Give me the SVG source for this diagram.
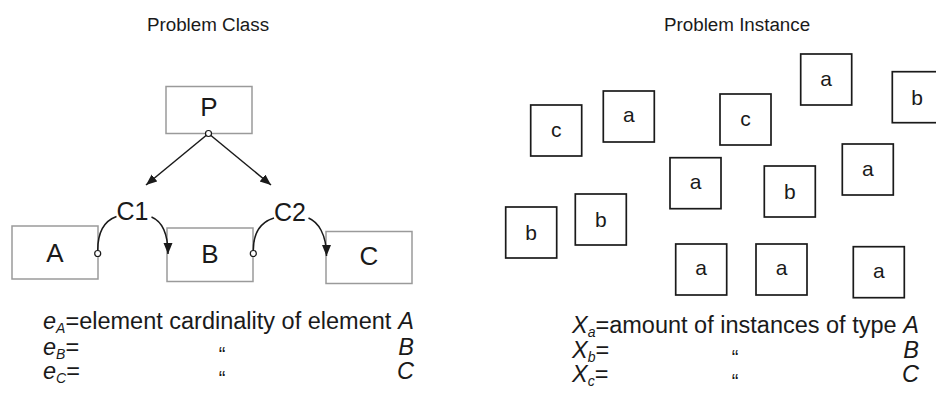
<svg xmlns="http://www.w3.org/2000/svg" width="936" height="397" viewBox="0 0 936 397">
<defs>
<style>
text{font-family:"Liberation Sans",Arial,sans-serif;fill:#1a1a1a}
.title{font-size:18.8px}
.cbox{fill:#fff;stroke:#9a9a9a;stroke-width:1.5}
.clbl{font-size:26px;text-anchor:middle}
.conn{fill:none;stroke:#1a1a1a;stroke-width:1.5}
.port{fill:#fff;stroke:#1a1a1a;stroke-width:1.2}
.cl{font-size:25px;text-anchor:middle}
.ibox{fill:#fff;stroke:#1a1a1a;stroke-width:1.7}
.ilbl{font-size:21px;text-anchor:middle}
.bt{font-size:23.5px}
.it{font-style:italic}
.sub{font-size:14px;font-style:italic}
.q{font-size:20px;text-anchor:middle}
.end{text-anchor:end}
</style>
<marker id="arr" markerUnits="userSpaceOnUse" markerWidth="12" markerHeight="10" refX="11" refY="4.5" orient="auto">
<path d="M0,0 L11,4.5 L0,9 z" fill="#1a1a1a"/>
</marker>
</defs>
<rect width="936" height="397" fill="#fff"/>

<text class="title" x="208" y="31" text-anchor="middle">Problem Class</text>
<text class="title" x="664" y="31">Problem Instance</text>

<g id="node-P"><rect class="cbox" x="166" y="86.5" width="86" height="47"/><text class="clbl" x="209" y="116">P</text></g>
<g id="node-A"><rect class="cbox" x="12" y="226" width="86" height="53"/><text class="clbl" x="55" y="262">A</text></g>
<g id="node-B"><rect class="cbox" x="167" y="228" width="86" height="53.5"/><text class="clbl" x="210" y="263">B</text></g>
<g id="node-C"><rect class="cbox" x="326" y="231.5" width="86" height="52"/><text class="clbl" x="369" y="265">C</text></g>
<g id="node-C1"><text class="cl" x="132.5" y="220">C1</text></g>
<g id="node-C2"><text class="cl" x="290" y="221">C2</text></g>

<g id="connectors">
<path class="conn" d="M208.5,133.5 L146,185" marker-end="url(#arr)"/>
<path class="conn" d="M208.5,133.5 L271,185" marker-end="url(#arr)"/>
<path class="conn" d="M97.7,250.5 C97.7,233 104,221 116.5,216.5"/>
<path class="conn" d="M151.5,217 C161,221 168,232 168,254" marker-end="url(#arr)"/>
<path class="conn" d="M253.3,250.5 C253.3,233 261,222 274,218"/>
<path class="conn" d="M308.5,218 C318,222 326.5,234 326.5,256" marker-end="url(#arr)"/>
<circle class="port" cx="208.5" cy="133.5" r="3"/>
<circle class="port" cx="97.7" cy="253.5" r="3"/>
<circle class="port" cx="253.3" cy="253.5" r="3"/>
</g>

<g id="inst-1"><rect class="ibox" x="530.7" y="105" width="51" height="51"/><text class="ilbl" x="556.2" y="137">c</text></g>
<g id="inst-2"><rect class="ibox" x="603.3" y="91" width="51" height="51"/><text class="ilbl" x="628.8" y="122">a</text></g>
<g id="inst-3"><rect class="ibox" x="720" y="94" width="51" height="51"/><text class="ilbl" x="745.5" y="126">c</text></g>
<g id="inst-4"><rect class="ibox" x="800.7" y="54" width="51" height="51"/><text class="ilbl" x="826.2" y="86">a</text></g>
<g id="inst-5"><rect class="ibox" x="892.3" y="71.7" width="51" height="51"/><text class="ilbl" x="917" y="105">b</text></g>
<g id="inst-6"><rect class="ibox" x="670" y="157.7" width="51" height="51"/><text class="ilbl" x="695.5" y="189">a</text></g>
<g id="inst-7"><rect class="ibox" x="764.3" y="166" width="51" height="51"/><text class="ilbl" x="789.8" y="199">b</text></g>
<g id="inst-8"><rect class="ibox" x="842.3" y="144" width="51" height="51"/><text class="ilbl" x="867.8" y="176">a</text></g>
<g id="inst-9"><rect class="ibox" x="505.7" y="207" width="51" height="51"/><text class="ilbl" x="531.2" y="240">b</text></g>
<g id="inst-10"><rect class="ibox" x="575.3" y="194" width="51" height="51"/><text class="ilbl" x="600.8" y="227">b</text></g>
<g id="inst-11"><rect class="ibox" x="675.7" y="244" width="51" height="51"/><text class="ilbl" x="701.2" y="275">a</text></g>
<g id="inst-12"><rect class="ibox" x="756" y="244" width="51" height="51"/><text class="ilbl" x="781.5" y="275">a</text></g>
<g id="inst-13"><rect class="ibox" x="853.3" y="246.7" width="51" height="51"/><text class="ilbl" x="878.8" y="278">a</text></g>

<g id="legend-class">
<text class="bt" x="43" y="329"><tspan class="it">e</tspan><tspan class="sub" dy="4">A</tspan><tspan dy="-4">=element cardinality of element</tspan></text>
<text class="bt it end" x="414" y="329">A</text>
<text class="bt" x="43" y="355"><tspan class="it">e</tspan><tspan class="sub" dy="4">B</tspan><tspan dy="-4">=</tspan></text>
<text class="q" x="222" y="361">“</text>
<text class="bt it end" x="414" y="355">B</text>
<text class="bt" x="43" y="379"><tspan class="it">e</tspan><tspan class="sub" dy="4">C</tspan><tspan dy="-4">=</tspan></text>
<text class="q" x="222" y="385">“</text>
<text class="bt it end" x="414" y="379">C</text>
</g>

<g id="legend-instance">
<text class="bt" x="572" y="333"><tspan class="it">X</tspan><tspan class="sub" dy="4">a</tspan><tspan dy="-4">=amount of instances of type</tspan></text>
<text class="bt it end" x="919" y="333">A</text>
<text class="bt" x="572" y="358"><tspan class="it">X</tspan><tspan class="sub" dy="4">b</tspan><tspan dy="-4">=</tspan></text>
<text class="q" x="735" y="364">“</text>
<text class="bt it end" x="919" y="358">B</text>
<text class="bt" x="572" y="382"><tspan class="it">X</tspan><tspan class="sub" dy="4">c</tspan><tspan dy="-4">=</tspan></text>
<text class="q" x="735" y="388">“</text>
<text class="bt it end" x="919" y="382">C</text>
</g>
</svg>
